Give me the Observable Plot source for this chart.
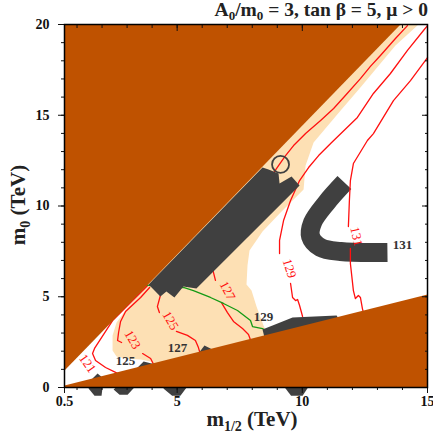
<!DOCTYPE html>
<html><head><meta charset="utf-8">
<script src="https://cdn.jsdelivr.net/npm/d3@7"></script>
<script src="https://cdn.jsdelivr.net/npm/@observablehq/plot@0.6"></script>
<style>
body{margin:0;background:#fff}
svg text{font-family:"Liberation Serif","Times New Roman",serif !important;}
</style>
</head><body><div id="chart"></div>
<script>
// ---- axes ----
const xDomain = [0.5, 15];
const yDomain = [0, 20];
const xMajorTicks = [0.5, 5, 10, 15];
const xMinorTicks = [1,2,3,4,5,6,7,8,9,10,11,12,13,14];
const yMajorTicks = [0, 5, 10, 15, 20];
const yMinorTicks = [0,1,2,3,4,5,6,7,8,9,10,11,12,13,14,15,16,17,18,19,20];

// ---- excluded regions (m1/2, m0 in TeV) ----
const upperBrown = [[0.5,0.94],[13.92,20],[0.5,20]];
const lowerBrown = [[0.5,0.11],[15,5.12],[15,0],[0.5,0]];

// ---- light orange region ----
const paleRegion = [[13.72,20],[3.54,5.90],[3.74,5.51],[3.02,4.41],[2.58,3.58],[2.42,2.87],[2.42,2.04],
  [2.58,1.71],[2.94,1.60],[3.54,1.54],[3.94,1.43],[4.33,0.83],[8.65,0.83],[8.65,2.81],[8.45,3.42],
  [8.17,4.46],[7.97,5.34],[7.77,5.67],[7.81,6.72],[7.89,7.55],[8.41,8.60],[9.13,9.64],[10.05,10.91],
  [10.13,12.23],[10.45,13.50],[11.53,15.26],[12.32,16.53],[13.72,18.84],[14.64,20]];

// ---- dark grey strips ----
const grayBand = [[3.86,5.67],[8.41,12.12],[8.65,12.01],[9.05,11.79],[9.09,11.24],[9.57,11.63],
  [9.89,11.13],[5.77,5.45],[5.25,5.56],[4.89,4.96],[4.57,5.29],[4.33,5.01]];
const wedge1 = [[1.62,0.50],[1.82,0.77],[2.06,0.50],[1.98,-0.45],[1.70,-0.45],[1.46,-0.06]];
const wedge2 = [[3.38,1.05],[3.66,1.43],[4.14,1.27],[3.02,-0.40],[2.70,-0.40],[2.46,-0.11]];
const wedge3 = [[5.85,1.87],[6.09,2.31],[6.49,2.04],[5.13,-0.45],[4.80,-0.45],[4.45,-0.06]];
const wedge4 = [[8.41,3.20],[9.61,3.86],[11.37,3.97],[11.72,3.14],[10.01,-0.45],[9.55,-0.45],[9.33,-0.06],[8.49,2.75]];
const ring = [[9.13,12.29]];
const hook = [[11.68,11.29],[10.97,10.19],[10.41,9.09],[10.33,8.32],[10.73,7.71],[11.53,7.49],[13.40,7.44]];

// ---- Higgs mass contours (GeV), split where the labels sit ----
const c121 = [[3.82,5.62],[2.42,3.69],[1.70,2.15],[1.62,1.87],[1.74,1.49],[2.14,1.10],[2.54,0.83],[2.94,0.55]];
const c123a = [[3.90,5.51],[3.54,4.96],[2.94,4.19],[2.74,3.64],[2.66,3.03],[2.62,2.59],[2.78,2.48]];
const c123b = [[3.62,1.87],[3.94,1.60],[4.10,1.16]];
const c125a = [[4.33,5.51],[4.33,5.07],[4.21,4.46],[4.29,4.13]];
const c125b = [[4.97,3.09],[5.41,2.87],[5.73,2.59],[5.85,2.20],[5.93,1.82]];
const c127a = [[14.20,19.94],[13.72,19.23],[13.12,18.29],[12.72,17.69],[12.32,17.02],[11.72,16.09],
  [11.25,15.37],[10.73,14.71],[10.13,13.99],[9.65,13.33],[9.33,12.78],[9.05,12.23],[7.53,9.20],[6.41,6.56],[6.53,5.90]];
const c127b = [[6.77,4.68],[7.01,4.13],[7.25,3.64],[7.61,3.25],[7.85,2.92],[8.01,2.31]];
const c129a = [[15.0,19.94],[14.84,19.67],[14.20,18.57],[13.52,17.30],[12.84,16.20],[12.20,14.88],[11.13,13.44],
  [10.65,12.78],[10.25,12.12],[9.89,11.40],[9.53,10.30],[9.25,9.20],[9.09,8.10],[9.09,7.38]];
const c129b = [[9.53,5.73],[9.61,4.96],[9.73,4.79],[9.81,4.85],[9.89,4.52],[10.01,3.91]];
const c131a = [[15.0,18.18],[14.32,16.91],[13.64,15.81],[12.84,13.99],[12.60,13.61],[12.04,12.34],
  [11.92,11.40],[11.88,10.30],[11.84,8.87]];
const c131b = [[11.92,7.66],[11.92,6.83],[12.04,5.34],[12.12,4.90],[12.24,5.07],[12.32,4.96],[12.40,4.35],[12.48,3.91]];
const greenLine = [[3.66,5.67],[4.53,5.51],[5.25,5.51],[5.65,5.34],[6.33,4.96],[6.85,4.63],[7.41,4.24],
  [7.93,3.69],[8.01,3.36],[8.41,3.25],[8.61,3.03],[8.65,2.75]];

// ---- labels ----
const redLabelText = ["121","123","125","127","129","131"];
const redLabelX = [1.42, 3.22, 4.73, 7.01, 9.49, 12.16];
const redLabelY = [1.32, 2.64, 3.69, 5.34, 6.56, 8.32];
const redLabelAngle = [55, 60, 60, 62, 72, 78];
const stripLabelText = ["125","127","129","131"];
const stripLabelX = [2.94, 5.01, 8.45, 14.00];
const stripLabelY = [1.49, 2.20, 3.91, 7.88];

// ---- build ----
const serif = "'Liberation Serif','Times New Roman',serif";
const BROWN = "#bf5200", PALE = "#fde0b4", GREY = "#404040", RED = "#ff1010", GREEN = "#159a15";
const poly = (pts, fill) => Plot.line(pts, {x: d => d[0], y: d => d[1], fill, stroke: "none"});
const segs = [c121, c123a, c123b, c125a, c125b, c127a, c127b, c129a, c129b, c131a, c131b];
const contourRows = segs.flatMap((s, i) => s.map(p => ({x: p[0], y: p[1], z: i})));
const redLabels = redLabelText.map((t, i) => ({t, x: redLabelX[i], y: redLabelY[i], a: redLabelAngle[i]}));
const stripLabels = stripLabelText.map((t, i) => ({t, x: stripLabelX[i], y: stripLabelY[i]}));
const blank = () => "";

const chart = Plot.plot({
  width: 433, height: 436,
  marginLeft: 64, marginRight: 6, marginTop: 24, marginBottom: 49,
  x: {domain: xDomain},
  y: {domain: yDomain},
  style: {fontFamily: serif, fontSize: "14px", fontWeight: "bold", background: "#fff", overflow: "visible", color: "#111"},
  marks: [
    poly(paleRegion, PALE),
    Plot.line(hook, {x: d => d[0], y: d => d[1], stroke: GREY, strokeWidth: 19, curve: "catmull-rom", strokeLinecap: "butt"}),
    Plot.line(contourRows, {x: "x", y: "y", z: "z", stroke: RED, strokeWidth: 1.3}),
    Plot.line(greenLine, {x: d => d[0], y: d => d[1], stroke: GREEN, strokeWidth: 1.3}),
    poly(grayBand, GREY),
    poly(wedge1, GREY), poly(wedge2, GREY), poly(wedge3, GREY), poly(wedge4, GREY),
    Plot.dot(ring, {x: d => d[0], y: d => d[1], r: 8.5, stroke: GREY, strokeWidth: 1.8, fill: "none"}),
    poly(upperBrown, BROWN),
    poly(lowerBrown, BROWN),
    Plot.text(redLabels, {x: "x", y: "y", text: "t", rotate: "a", fill: RED, fontSize: 13, fontWeight: "normal"}),
    Plot.text(stripLabels, {x: "x", y: "y", text: "t", fill: "#333", fontSize: 13, fontWeight: "bold"}),
    Plot.axisX({anchor: "bottom", ticks: xMajorTicks, tickSize: 6, tickPadding: 3, label: null, tickFormat: d => String(d)}),
    Plot.axisX({anchor: "bottom", ticks: xMinorTicks, tickSize: 3, tickFormat: blank, label: null}),
    Plot.axisX({anchor: "top", ticks: xMajorTicks, tickSize: -6, tickFormat: blank, label: null}),
    Plot.axisX({anchor: "top", ticks: xMinorTicks, tickSize: -3, tickFormat: blank, label: null}),
    Plot.axisY({anchor: "left", ticks: yMajorTicks, tickSize: 6, tickPadding: 9, label: null, tickFormat: d => String(d)}),
    Plot.axisY({anchor: "left", ticks: yMinorTicks, tickSize: 3, tickFormat: blank, label: null}),
    Plot.axisY({anchor: "right", ticks: yMajorTicks, tickSize: -6, tickFormat: blank, label: null}),
    Plot.axisY({anchor: "right", ticks: yMinorTicks, tickSize: -3, tickFormat: blank, label: null}),
    Plot.frame({stroke: "#000", strokeWidth: 1.5})
  ]
});
document.getElementById("chart").append(chart);

// titles with subscripts
const svg = d3.select(chart);
const title = svg.append("text").attr("x", 428).attr("y", 16).attr("text-anchor", "end")
  .style("font-size", "19.5px").style("font-weight", "bold").style("font-family", serif).attr("fill", "#222");
title.append("tspan").text("A");
title.append("tspan").style("font-size", "13px").attr("dy", 4).text("0");
title.append("tspan").attr("dy", -4).text("/m");
title.append("tspan").style("font-size", "13px").attr("dy", 4).text("0");
title.append("tspan").attr("dy", -4).text(" = 3, tan \u03b2 = 5, \u03bc > 0");

const xl = svg.append("text").attr("x", 252).attr("y", 426).attr("text-anchor", "middle")
  .style("font-size", "21px").style("font-weight", "bold").style("font-family", serif).attr("fill", "#222");
xl.append("tspan").text("m");
xl.append("tspan").style("font-size", "14px").attr("dy", 5).text("1/2");
xl.append("tspan").attr("dy", -5).text(" (TeV)");

const yl = svg.append("text").attr("transform", "translate(25,205) rotate(-90)").attr("text-anchor", "middle")
  .style("font-size", "21px").style("font-weight", "bold").style("font-family", serif).attr("fill", "#222");
yl.append("tspan").text("m");
yl.append("tspan").style("font-size", "14px").attr("dy", 5).text("0");
yl.append("tspan").attr("dy", -5).text(" (TeV)");
</script></body></html>
